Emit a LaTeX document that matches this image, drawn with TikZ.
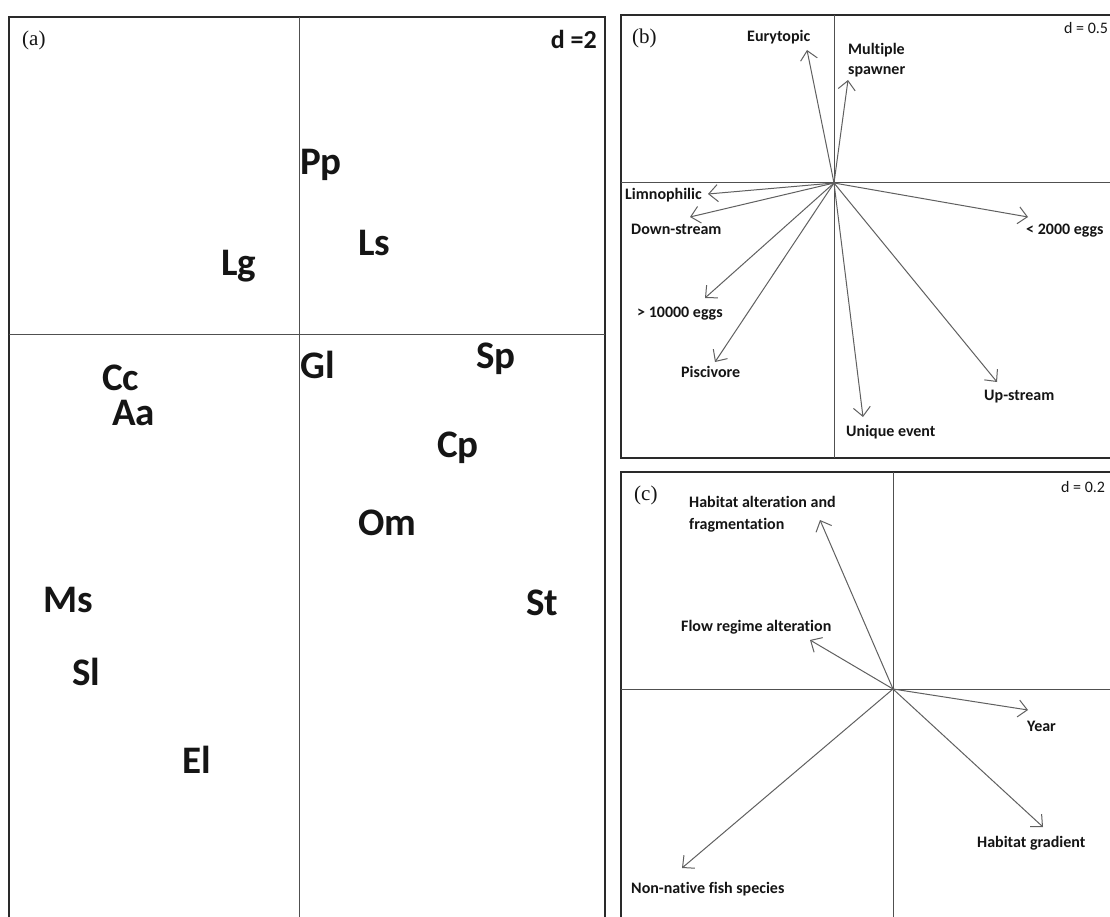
\documentclass[tikz,border=0pt]{standalone}
\usepackage{fontspec}
\setmainfont{Liberation Serif}
\newfontfamily\carlito[Ligatures=NoCommon]{Carlito}
\usetikzlibrary{arrows.meta}
\definecolor{framecol}{HTML}{2A2A2A}
\definecolor{axiscol}{HTML}{505050}
\definecolor{arrcol}{HTML}{606060}
\definecolor{txtcol}{HTML}{151515}
\tikzset{
  frame/.style={draw=framecol, line width=2pt},
  axis/.style={draw=axiscol, line width=1pt},
  vec/.style={draw=arrcol, line width=1pt, -{Straight Barb[length=9pt,width=17pt,line width=1pt]}},
  species/.style={anchor=base west, inner sep=0pt, text=txtcol, font=\carlito\bfseries\fontsize{39}{44}\selectfont},
  varlab/.style={anchor=base west, inner sep=0pt, text=txtcol, font=\carlito\bfseries\fontsize{16}{19}\selectfont},
  dlab/.style={anchor=base west, inner sep=0pt, text=txtcol, font=\carlito\fontsize{16}{19}\selectfont},
  dlabA/.style={anchor=base east, inner sep=0pt, text=txtcol, font=\carlito\bfseries\fontsize{26}{30}\selectfont},
  panlab/.style={anchor=base west, inner sep=0pt, text=txtcol, font=\fontsize{21}{24}\selectfont},
}
\begin{document}
\begin{tikzpicture}[x=1pt,y=-1pt]
\useasboundingbox[fill=white] (0,0) rectangle (1110,917);
% ---------- panel (a) ----------
\draw[frame] (9,917) -- (9,17) -- (605,17) -- (605,917);
\draw[axis] (299,17) -- (299,917);
\draw[axis] (9,334) -- (605,334);
\node[panlab] (la) at (22,46) {(a)};
\node[dlabA] (da) at (597,49) {d =2};
\node[species] (Pp) at (300,175) {Pp};
\node[species] (Ls) at (358,255) {Ls};
\node[species] (Lg) at (221,275) {Lg};
\node[species] (Gl) at (300,378) {Gl};
\node[species] (Sp) at (476,368) {Sp};
\node[species] (Cc) at (102,390) {Cc};
\node[species] (Aa) at (112,425) {Aa};
\node[species] (Cp) at (437,457) {Cp};
\node[species] (Om) at (358,535) {Om};
\node[species] (Ms) at (43,612) {Ms};
\node[species] (St) at (526,615) {St};
\node[species] (Sl) at (72,685) {Sl};
\node[species] (El) at (182,773) {El};
% ---------- panel (b) ----------
\draw[frame] (1110,15) -- (621,15) -- (621,458) -- (1110,458);
\draw[axis] (834,15) -- (834,458);
\draw[axis] (621,183) -- (1110,183);
\node[panlab] (lb) at (632,44) {(b)};
\node[dlab] (db) at (1064,34) {d = 0.5};
\coordinate (oB) at (834,183);
\coordinate (tEur) at (807,50);
\coordinate (tMul) at (848,80);
\coordinate (tLim) at (708,194);
\coordinate (tDown) at (690,217);
\coordinate (tBig) at (705,298);
\coordinate (tPis) at (715,362);
\coordinate (tUni) at (863,417);
\coordinate (tUp) at (997,382);
\coordinate (tSmall) at (1028,217);
\draw[vec] (oB) -- (tEur);
\draw[vec] (oB) -- (tMul);
\draw[vec] (oB) -- (tLim);
\draw[vec] (oB) -- (tDown);
\draw[vec] (oB) -- (tBig);
\draw[vec] (oB) -- (tPis);
\draw[vec] (oB) -- (tUni);
\draw[vec] (oB) -- (tUp);
\draw[vec] (oB) -- (tSmall);
\node[varlab] (nEur) at (747,42) {Eurytopic};
\node[varlab] (nMul1) at (848,55) {Multiple};
\node[varlab] (nMul2) at (848,75) {spawner};
\node[varlab] (nLim) at (625,200) {Limnophilic};
\node[varlab] (nDown) at (631,235) {Down-stream};
\node[varlab] (nBig) at (637,317) {> 10000 eggs};
\node[varlab] (nPis) at (681,377) {Piscivore};
\node[varlab] (nUni) at (846,436) {Unique event};
\node[varlab] (nUp) at (984,400) {Up-stream};
\node[varlab] (nSmall) at (1026,235) {< 2000 eggs};
% ---------- panel (c) ----------
\draw[frame] (1110,472) -- (621,472) -- (621,917);
\draw[axis] (893,472) -- (893,917);
\draw[axis] (621,689) -- (1110,689);
\node[panlab] (lc) at (634,500) {(c)};
\node[dlab] (dc) at (1061,492) {d = 0.2};
\coordinate (oC) at (893,689);
\coordinate (tHab) at (820,520);
\coordinate (tFlow) at (810,640);
\coordinate (tYear) at (1028,710);
\coordinate (tGrad) at (1043,827);
\coordinate (tNon) at (682,868);
\draw[vec] (oC) -- (tHab);
\draw[vec] (oC) -- (tFlow);
\draw[vec] (oC) -- (tYear);
\draw[vec] (oC) -- (tGrad);
\draw[vec] (oC) -- (tNon);
\node[varlab] (nHab1) at (689,507) {Habitat alteration and};
\node[varlab] (nHab2) at (689,529) {fragmentation};
\node[varlab] (nFlow) at (681,631) {Flow regime alteration};
\node[varlab] (nYear) at (1027,731) {Year};
\node[varlab] (nGrad) at (977,847) {Habitat gradient};
\node[varlab] (nNon) at (631,893) {Non-native fish species};
\end{tikzpicture}
\end{document}
